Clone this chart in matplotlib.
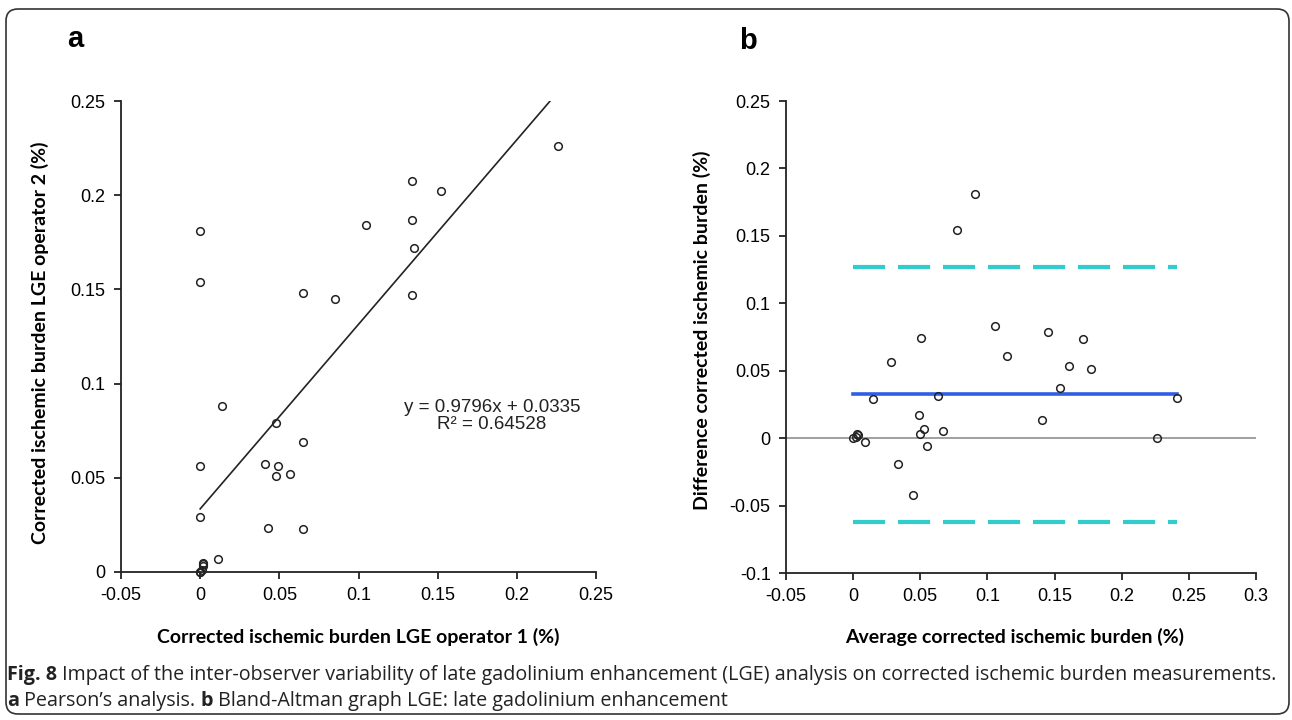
import matplotlib
matplotlib.use("Agg")
import matplotlib.pyplot as plt
from matplotlib import font_manager as fm
from matplotlib.patches import FancyBboxPatch
import numpy as np

# panel a: operator 1 vs operator 2 corrected ischemic burden (%)
op1 = [0.226, 0.134, 0.152, 0.105, 0.134, 0.135, 0.134, 0.065, 0.085,
       0.000, 0.000, 0.014, 0.048, 0.065, 0.041, 0.049, 0.048, 0.057,
       0.000, 0.000, 0.043, 0.065, 0.011, 0.002, 0.002, 0.002, 0.001,
       0.000, 0.000]
op2 = [0.226, 0.2075, 0.202, 0.184, 0.187, 0.172, 0.147, 0.148, 0.145,
       0.181, 0.154, 0.088, 0.079, 0.069, 0.0575, 0.056, 0.051, 0.052,
       0.056, 0.029, 0.0235, 0.023, 0.007, 0.005, 0.004, 0.003, 0.001,
       0.000, 0.000]
slope, intercept, r2 = 0.9796, 0.0335, 0.64528

# panel b: Bland-Altman, mean of the two vs difference
ba_avg = [0.091, 0.0775, 0.106, 0.0505, 0.145, 0.171, 0.1145, 0.028,
          0.161, 0.177, 0.154, 0.0145, 0.0635, 0.241, 0.049, 0.141,
          0.0525, 0.067, 0.0495, 0.055, 0.2265, 0.0085, 0.0335, 0.0445,
          0.000, 0.003, 0.0035, 0.002]
ba_diff = [0.181, 0.1547, 0.0833, 0.0742, 0.0788, 0.0737, 0.0606, 0.0564,
           0.0534, 0.051, 0.0373, 0.0289, 0.0313, 0.0298, 0.017, 0.0134,
           0.0071, 0.005, 0.0028, -0.0056, 0.000, -0.0032, -0.0192, -0.0419,
           0.000, 0.003, 0.0025, 0.001]
bias, loa_hi, loa_lo = 0.0328, 0.1272, -0.0625
ba_span = [0.0, 0.241]

names = {f.name for f in fm.fontManager.ttflist}
NUM = "Liberation Sans"
LAB = "Lato" if "Lato" in names else "Open Sans"
CAP = "Liberation Sans Narrow" if "Liberation Sans Narrow" in names else "Open Sans"

fig = plt.figure(figsize=(12.92, 7.2), dpi=100)
W, H = 1292, 720


def axes_px(l, t, r, b):
    return fig.add_axes([l / W, 1 - b / H, (r - l) / W, (b - t) / H])


def style(ax):
    for s in ("top", "right"):
        ax.spines[s].set_visible(False)
    for s in ("left", "bottom"):
        ax.spines[s].set_linewidth(1.3)
        ax.spines[s].set_color("#222222")
    ax.tick_params(direction="out", length=5, width=1.3, color="#222222",
                   labelsize=13, pad=6)
    for lab in ax.get_xticklabels() + ax.get_yticklabels():
        lab.set_family(NUM)


mk = dict(marker="o", ms=5.5, mfc="none", mec="#222222", mew=1.1, ls="none",
          clip_on=False, zorder=4)

# ---- a: Pearson
ax = axes_px(121, 101, 596, 572)
ax.plot(op1, op2, **mk)
xf = np.array([0.0, (0.25 - intercept) / slope])
ax.plot(xf, slope * xf + intercept, color="#222222", lw=1.2)
ax.set_xlim(-0.05, 0.25)
ax.set_ylim(0, 0.25)
ax.set_xticks([-0.05, 0, 0.05, 0.1, 0.15, 0.2, 0.25])
ax.set_xticklabels(["-0.05", "0", "0.05", "0.1", "0.15", "0.2", "0.25"])
ax.set_yticks([0, 0.05, 0.1, 0.15, 0.2, 0.25])
ax.set_yticklabels(["0", "0.05", "0.1", "0.15", "0.2", "0.25"])
style(ax)
ax.text(0.1843, 0.0828, f"y = {slope}x + {intercept}\nR² = {r2}",
        ha="center", va="center", fontsize=13.5, family=NUM,
        linespacing=1.05, color="#222222")
fig.text(358 / W, 1 - 637 / H, "Corrected ischemic burden LGE operator 1 (%)",
         ha="center", va="center", fontsize=14, weight="bold", family=LAB)
fig.text(40 / W, 1 - 343 / H, "Corrected ischemic burden LGE operator 2 (%)",
         ha="center", va="center", fontsize=14, weight="bold", family=LAB,
         rotation=90)
fig.text(75 / W, 1 - 39 / H, "a", ha="center", va="center", fontsize=21,
         weight="bold", family=NUM)

# ---- b: Bland-Altman
bx = axes_px(786, 101, 1256, 573)
bx.axhline(0, color="#999999", lw=1.3, zorder=1)
bx.plot(ba_span, [bias, bias], color="#2f5fe3", lw=2.6, zorder=2)
for v in (loa_hi, loa_lo):
    bx.plot(ba_span, [v, v], color="#33cccc", lw=3.0,
            ls=(0, (7.7, 3.1)), zorder=2)
bx.plot(ba_avg, ba_diff, **mk)
bx.set_xlim(-0.05, 0.3)
bx.set_ylim(-0.1, 0.25)
bx.set_xticks([-0.05, 0, 0.05, 0.1, 0.15, 0.2, 0.25, 0.3])
bx.set_xticklabels(["-0.05", "0", "0.05", "0.1", "0.15", "0.2", "0.25", "0.3"])
bx.set_yticks([-0.1, -0.05, 0, 0.05, 0.1, 0.15, 0.2, 0.25])
bx.set_yticklabels(["-0.1", "-0.05", "0", "0.05", "0.1", "0.15", "0.2", "0.25"])
style(bx)
fig.text(1015 / W, 1 - 637 / H, "Average corrected ischemic burden (%)",
         ha="center", va="center", fontsize=14, weight="bold", family=LAB)
fig.text(702 / W, 1 - 330 / H, "Difference corrected ischemic burden (%)",
         ha="center", va="center", fontsize=14, weight="bold", family=LAB,
         rotation=90)
fig.text(748 / W, 1 - 41 / H, "b", ha="center", va="center", fontsize=21,
         weight="bold", family=NUM)

# ---- caption, mixed weights, sized so line 1 fills the frame width
line1 = [("Fig. 8", "bold"),
         (" Impact of the inter-observer variability of late gadolinium "
          "enhancement (LGE) analysis on corrected ischemic burden "
          "measurements.", "normal")]
line2 = [("a", "bold"), (" Pearson\u2019s analysis. ", "normal"), ("b", "bold"),
         (" Bland-Altman graph LGE: late gadolinium enhancement", "normal")]
renderer = fig.canvas.get_renderer()


def runs(y, parts, size):
    x = 7
    arts = []
    for s, w in parts:
        t = fig.text(x / W, 1 - y / H, s, ha="left", va="center",
                     fontsize=size, weight=w, family=CAP, color="#222222")
        x += t.get_window_extent(renderer).width
        arts.append(t)
    return x, arts


end, tmp = runs(675, line1, 13)
for t in tmp:
    t.remove()
size = 13 * (1276 - 7) / (end - 7)
runs(675, line1, size)
runs(701, line2, size)

# rounded frame around the whole figure
frame = FancyBboxPatch((0.06, 0.06), 12.83, 7.05,
                       boxstyle="round,pad=0,rounding_size=0.12",
                       transform=fig.dpi_scale_trans, fill=False,
                       ec="#333333", lw=1.2)
fig.patches.append(frame)

fig.savefig("out.png", dpi=100)
